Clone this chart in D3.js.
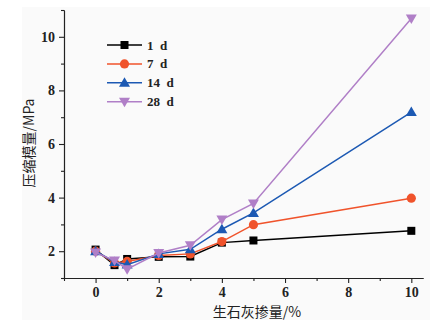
<!DOCTYPE html>
<html><head><meta charset="utf-8">
<script src="https://cdn.jsdelivr.net/npm/d3@7"></script>
<style>body{margin:0;background:#fff}svg{display:block}</style>
</head><body>
<svg id="c" width="444" height="323"></svg>
<script>
const xValues = [0, 0.6, 1, 2, 3, 4, 5, 10];
const seriesNames = ["1 d", "7 d", "14 d", "28 d"];
const s1d  = [2.06, 1.48, 1.71, 1.79, 1.8, 2.32, 2.4, 2.76];
const s7d  = [2.0, 1.56, 1.62, 1.84, 1.9, 2.36, 2.99, 3.98];
const s14d = [2.0, 1.6, 1.5, 1.9, 2.07, 2.82, 3.43, 7.19];
const s28d = [1.95, 1.65, 1.33, 1.93, 2.22, 3.18, 3.78, 10.68];
const xTicks = [0, 2, 4, 6, 8, 10];
const yTicks = [2, 4, 6, 8, 10];
const colors = ["#000000", "#f0532b", "#1c59b3", "#b07fc7"];
const symbols = ["square", "circle", "triUp", "triDown"];

const svg = d3.select("#c");
svg.append("rect").attr("x",22).attr("y",7).attr("width",408).attr("height",313).attr("fill","#fafafa");

const x = d3.scaleLinear().domain([-1, 10.37]).range([64, 423]);
const y = d3.scaleLinear().domain([1, 11]).range([278, 10]);

const serif = "'Liberation Serif','DejaVu Serif',serif";

const xAxis = d3.axisBottom(x).tickValues(xTicks).tickSize(5).tickSizeOuter(0).tickPadding(4);
const xAxisMinor = d3.axisBottom(x).tickValues([-1,1,3,5,7,9]).tickSize(3).tickFormat("").tickSizeOuter(0);
const yAxis = d3.axisLeft(y).tickValues(yTicks).tickSize(5).tickSizeOuter(0).tickPadding(4);
const yAxisMinor = d3.axisLeft(y).tickValues([1,3,5,7,9,11]).tickSize(3).tickFormat("").tickSizeOuter(0);

function styleAxis(g){
  g.selectAll("path,line").attr("stroke","#222").attr("stroke-width",1.1);
  g.selectAll("text").attr("font-family",serif).attr("font-size",14).attr("font-weight","bold").attr("fill","#222");
}
svg.append("g").attr("transform","translate(0,278)").call(xAxis).call(styleAxis);
svg.append("g").attr("transform","translate(0,278)").call(xAxisMinor).call(styleAxis);
svg.append("g").attr("transform","translate(64,0)").call(yAxis).call(styleAxis);
svg.append("g").attr("transform","translate(64,0)").call(yAxisMinor).call(styleAxis);

svg.append("text").attr("x",257).attr("y",317).attr("text-anchor","middle")
  .attr("font-family","'Noto Sans CJK SC',sans-serif").attr("font-size",14).attr("fill","#222")
  .text("生石灰掺量/%");
svg.append("text").attr("transform","translate(34,143) rotate(-90)").attr("text-anchor","middle")
  .attr("font-family","'Noto Sans CJK SC',sans-serif").attr("font-size",14).attr("fill","#222")
  .text("压缩模量/MPa");

function drawMarker(g, type, cx, cy, color){
  if(type==="square"){
    g.append("rect").attr("x",cx-4).attr("y",cy-4).attr("width",8).attr("height",8).attr("fill",color);
  } else if(type==="circle"){
    g.append("circle").attr("cx",cx).attr("cy",cy).attr("r",4.6).attr("fill",color);
  } else if(type==="triUp"){
    g.append("path").attr("d",`M${cx},${cy-5.5}L${cx+5.5},${cy+4}L${cx-5.5},${cy+4}Z`).attr("fill",color);
  } else {
    g.append("path").attr("d",`M${cx},${cy+5.5}L${cx+5.5},${cy-4}L${cx-5.5},${cy-4}Z`).attr("fill",color);
  }
}

const allSeries = [s1d, s7d, s14d, s28d];
const line = d3.line().x(d=>x(d[0])).y(d=>y(d[1]));
allSeries.forEach((vals,i)=>{
  const pts = xValues.map((xv,j)=>[xv, vals[j]]);
  const g = svg.append("g");
  g.append("path").attr("d",line(pts)).attr("fill","none").attr("stroke",colors[i]).attr("stroke-width",1.5);
  pts.forEach(p=>drawMarker(g, symbols[i], x(p[0]), y(p[1]), colors[i]));
});

seriesNames.forEach((name,i)=>{
  const ly = 45 + i*18.9;
  const g = svg.append("g");
  g.append("line").attr("x1",107).attr("x2",142).attr("y1",ly).attr("y2",ly).attr("stroke",colors[i]).attr("stroke-width",1.5);
  drawMarker(g, symbols[i], 124.5, ly, colors[i]);
  g.append("text").attr("x",147).attr("y",ly+4.5).attr("font-family",serif).attr("font-size",13)
    .attr("font-weight","bold").attr("fill","#222").text(name.replace(" ","\u00a0 "));
});
</script>
</body></html>
